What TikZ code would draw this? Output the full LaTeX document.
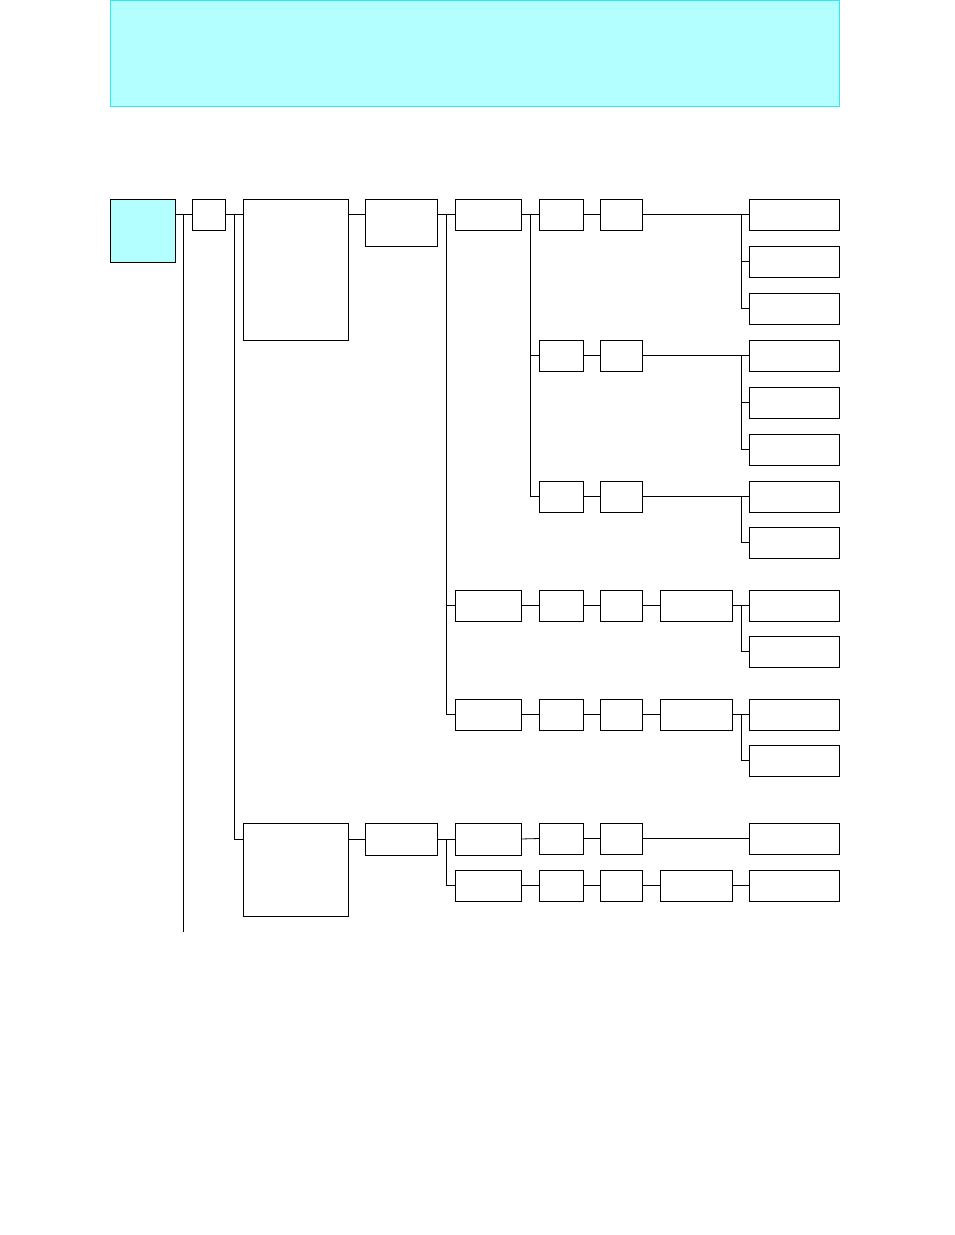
\documentclass[tikz,border=0pt]{standalone}
\usepackage{tikz}
\usetikzlibrary{positioning}
\definecolor{pale}{HTML}{B3FFFF}
\definecolor{edge}{HTML}{33E6F0}
\tikzset{box/.style={draw,inner sep=0,outer sep=0,anchor=north west,line width=0.8pt},
  wire/.style={line width=0.8pt}}
% box with name, left, top, right, bottom
\newcommand{\bx}[6][]{\node[box,#1,minimum width=#5pt-#3pt,minimum height=#6pt-#4pt] (#2) at (#3,#4) {};}
\begin{document}
\begin{tikzpicture}[x=1pt,y=-1pt]
        \useasboundingbox (0,0) rectangle (954,1235);
        \fill[pale,draw=edge,line width=1pt] (110,0) rectangle (839,106);
        \bx[fill=pale]{root}{110}{199}{175}{262}
        \bx{sel}{192}{199}{225}{230}
        \bx{grpa}{243}{199}{348}{340}
        \bx{grpb}{243}{823}{348}{916}
        \bx{moda}{365}{199}{437}{246}
        \bx{modb}{365}{823}{437}{855}
        % first group
        \bx{ch1}{455}{199}{521}{230}
        \bx{ch2}{455}{590}{521}{621}
        \bx{ch3}{455}{699}{521}{730}
        \bx{ch4}{455}{823}{521}{855}
        \bx{ch5}{455}{870}{521}{901}
        \foreach \n/\y in {r1/199,r2/340,r3/481,r4/590,r5/699,r6/823,r7/870} {
            \bx{p\n}{539}{\y}{583}{\y+31}
            \bx{q\n}{600}{\y}{642}{\y+31}
        }
        \foreach \n/\y in {r4/590,r5/699,r7/870}
            \bx{g\n}{660}{\y}{732}{\y+31}
        \foreach \n/\y in {a1/199,a2/246,a3/293,b1/340,b2/387,b3/434,c1/481,c2/527,
                           d1/590,d2/636,e1/699,e2/745,f1/823,h1/870}
            \bx{out\n}{749}{\y}{839}{\y+31}
        % connectors
        \coordinate (rj) at (183,215);
        \coordinate (rootend) at (183,932);
        \draw[wire] (root.east |- sel.west) -- (sel.west);
        \draw[wire] (rj) -- (rootend);
        \draw[wire] (sel.east) -- (grpa.west |- sel.east);
        \draw[wire] (sel.east) -- ++(9,0) |- (grpb.west |- modb.west) -- ++(0,0);
        \draw[wire] (grpa.east |- sel.east) -- (moda.west |- sel.east);
        \draw[wire] (grpb.east |- modb.west) -- (modb.west);
        \draw[wire] (moda.east |- ch1.west) -- (ch1.west);
        \foreach \c in {ch2,ch3} \draw[wire] (moda.east |- ch1.west) -- ++(9,0) |- (\c.west);
        \draw[wire] (modb.west -| modb.east) -- (ch4.west);
        \draw[wire] (modb.east) -- ++(9,0) |- (ch5.west);
        \draw[wire] (ch1.east) -- (pr1.west);
        \foreach \r in {r2,r3} \draw[wire] (ch1.east) -- ++(9,0) |- (p\r.west);
        \foreach \i/\r in {2/r4,3/r5,4/r6,5/r7} \draw[wire] (ch\i.east) -- (p\r.west);
        \foreach \r in {r1,r2,r3,r4,r5,r6,r7} \draw[wire] (p\r.east) -- (q\r.west);
        \foreach \r in {r4,r5,r7} \draw[wire] (q\r.east) -- (g\r.west);
        \foreach \r/\a/\b in {r1/a1/a2,r1/a1/a3,r2/b1/b2,r2/b1/b3,r3/c1/c2}
            \draw[wire] (q\r.east) -- (out\a.west) (out\a.west) ++(-8,0) |- (out\b.west);
        \foreach \r/\a/\b in {r4/d1/d2,r5/e1/e2}
            \draw[wire] (g\r.east) -- (out\a.west) (out\a.west) ++(-8,0) |- (out\b.west);
        \draw[wire] (qr6.east) -- (outf1.west);
        \draw[wire] (gr7.east) -- (outh1.west);
    \end{tikzpicture}
\end{document}
